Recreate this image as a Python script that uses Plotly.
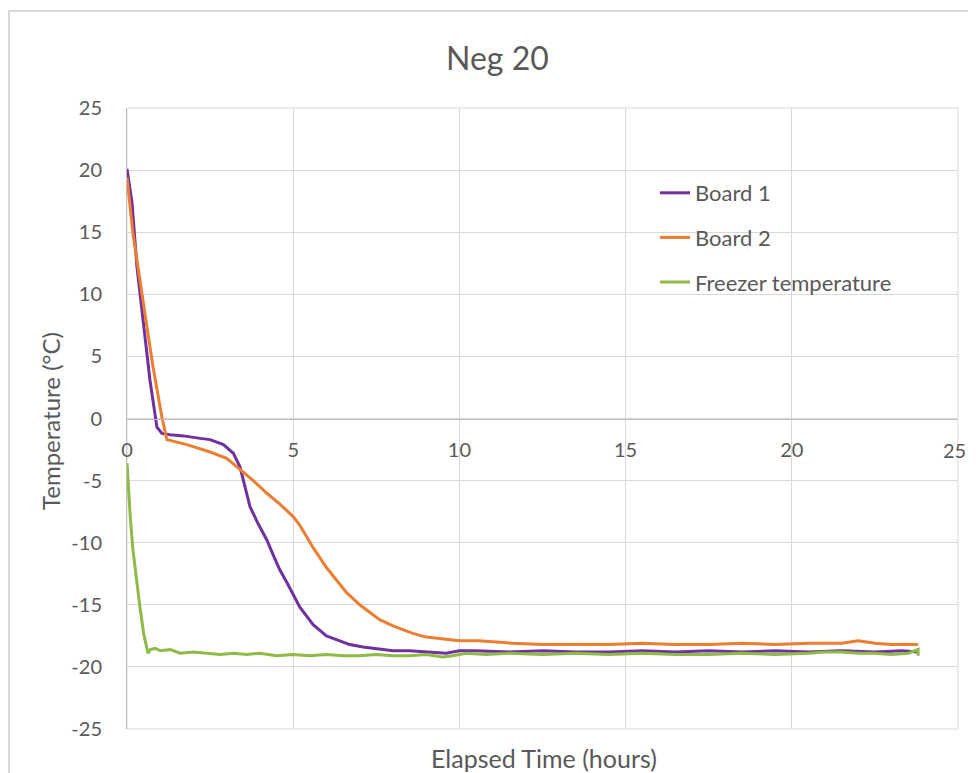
import plotly.graph_objects as go

# ---- data ----
b1_t = [0, 0.15, 0.3, 0.48, 0.69, 0.9, 1.05, 1.3, 1.7, 2.2, 2.5, 2.9, 3.2, 3.4, 3.55, 3.7, 3.95, 4.21, 4.4, 4.6,
        4.81, 5.0, 5.2, 5.6, 6.0, 6.4, 6.7, 7.1, 7.6, 8.0, 8.5, 9.0, 9.6, 10.0, 10.5, 11.5, 12.5, 13.5, 14.5, 15.5,
        16.5, 17.5, 18.5, 19.5, 20.5, 21.5, 22.5, 23.3, 23.8]
b1_v = [20.1, 17.4, 12.2, 8.2, 3.1, -0.7, -1.2, -1.3, -1.4, -1.6, -1.7, -2.1, -2.8, -3.9, -5.5, -7.1, -8.5, -9.8, -11.0, -12.2,
        -13.2, -14.2, -15.2, -16.6, -17.5, -17.9, -18.2, -18.4, -18.6, -18.7, -18.7, -18.8, -18.9, -18.7, -18.7, -18.8, -18.7, -18.8, -18.8, -18.7,
        -18.8, -18.7, -18.8, -18.7, -18.8, -18.7, -18.8, -18.7, -18.8]

b2_t = [0, 0.18, 0.48, 0.78, 1.05, 1.2, 1.8, 2.5, 3.0, 3.4, 3.8, 4.2, 4.6, 5.0, 5.2, 5.4, 5.6, 6.0, 6.3, 6.6,
        7.0, 7.6, 8.0, 8.6, 9.0, 9.6, 10.0, 10.6, 11.6, 12.5, 13.5, 14.5, 15.5, 16.5, 17.5, 18.5, 19.5, 20.5, 21.5, 22.0,
        22.5, 23.0, 23.8]
b2_v = [19.4, 14.9, 9.5, 4.2, 0.1, -1.7, -2.1, -2.7, -3.2, -4.1, -5.0, -6.0, -6.9, -7.9, -8.6, -9.5, -10.4, -12.0, -13.0, -14.0,
        -15.0, -16.2, -16.7, -17.3, -17.6, -17.8, -17.9, -17.9, -18.1, -18.2, -18.2, -18.2, -18.1, -18.2, -18.2, -18.1, -18.2, -18.1, -18.1, -17.9,
        -18.1, -18.2, -18.2]

fz_t = [0, 0.05, 0.1, 0.18, 0.28, 0.39, 0.5, 0.63, 0.7, 0.85, 1.0, 1.3, 1.6, 2.0, 2.4, 2.8, 3.2, 3.6, 4.0, 4.5,
        5.0, 5.5, 6.0, 6.5, 7.0, 7.5, 8.0, 8.5, 9.0, 9.5, 9.8, 10.2, 10.8, 11.5, 12.5, 13.5, 14.5, 15.5, 16.5, 17.5,
        18.5, 19.5, 20.5, 21.0, 21.5, 22.0, 22.5, 23.0, 23.5, 23.8, 23.8]
fz_v = [-3.6, -6.0, -8.0, -10.6, -13.0, -15.2, -17.3, -18.9, -18.6, -18.5, -18.7, -18.6, -18.9, -18.8, -18.9, -19.0, -18.9, -19.0, -18.9, -19.1,
        -19.0, -19.1, -19.0, -19.1, -19.1, -19.0, -19.1, -19.1, -19.0, -19.2, -19.1, -18.9, -19.0, -18.9, -19.0, -18.9, -19.0, -18.9, -19.0, -19.0,
        -18.9, -19.0, -18.9, -18.8, -18.8, -18.9, -18.9, -19.0, -18.9, -18.6, -19.1]

series_names = ["Board 1", "Board 2", "Freezer temperature"]
series_colors = ["#7030A0", "#ED7D31", "#8DBB45"]

x_ticks = [0, 5, 10, 15, 20, 25]
y_ticks = [-25, -20, -15, -10, -5, 0, 5, 10, 15, 20, 25]
x_ticktext = ["0", "5", "10", "15", "20", "25"]
y_ticktext = ["-25", "-20", "-15", "-10", "-5", "0", "5", "10", "15", "20", "25"]

title_text = "Neg 20"
x_title = "Elapsed Time (hours)"
y_title = "Temperature (°C)"

FONT = "Lato, 'Open Sans', sans-serif"
TXT = "#595959"
GRID = "#d9d9d9"
AXIS = "#bfbfbf"

fig = go.Figure()
for i, (t, v) in enumerate([(b1_t, b1_v), (b2_t, b2_v), (fz_t, fz_v)]):
    fig.add_trace(go.Scatter(x=t, y=v, mode="lines", name=series_names[i], legendgroup=str(i),
                             line=dict(color=series_colors[i], width=3)))

OFF = 8  # page body margin
W, H = 976 - 2 * OFF, 773 - OFF
# screen-pixel plot area: x 127..958, y 108..729
PX0, PX1, PY0, PY1 = 127, 958, 108, 729
L, R, T, B = PX0 - OFF, OFF + W - PX1, PY0 - OFF, OFF + H - PY1

def px2x(p):
    return (p - PX0) / (PX1 - PX0)

def py2y(p):
    return (PY1 - p) / (PY1 - PY0)

fig.update_layout(
    width=W, height=H,
    margin=dict(l=L, r=R, t=T, b=B, pad=0),
    paper_bgcolor="white", plot_bgcolor="white",
    font=dict(family=FONT, color=TXT, size=20),
    showlegend=True,
    legend=dict(x=px2x(655), y=py2y(172), xanchor="left", yanchor="top",
                bgcolor="rgba(0,0,0,0)", font=dict(size=22, color=TXT),
                tracegroupgap=13, traceorder="grouped"),
    # last x tick label (at the right edge) is placed as an annotation so it stays inside the page
    xaxis=dict(range=[0, 25], tickvals=x_ticks[:-1], ticktext=x_ticktext[:-1], showgrid=True, gridcolor=GRID, gridwidth=1,
               zeroline=False, showline=True, linecolor=AXIS, linewidth=1,
               anchor="free", position=0.5, ticks="", ticklabelstandoff=13,
               tickfont=dict(size=20, color=TXT)),
    yaxis=dict(range=[-25, 25], tickvals=y_ticks, ticktext=y_ticktext, showgrid=True, gridcolor=GRID, gridwidth=1,
               zeroline=False, showline=True, linecolor=AXIS, linewidth=1,
               ticks="", ticklabelstandoff=20, tickfont=dict(size=20, color=TXT)),
    annotations=[
        dict(text=title_text, xref="paper", yref="paper", x=px2x(497), y=py2y(57),
             xanchor="center", yanchor="middle", showarrow=False, font=dict(size=32, color=TXT)),
        dict(text=x_title, xref="paper", yref="paper", x=px2x(544), y=py2y(758),
             xanchor="center", yanchor="middle", showarrow=False, font=dict(size=25, color=TXT)),
        dict(text=y_title, xref="paper", yref="paper", x=px2x(50), y=py2y(421),
             xanchor="center", yanchor="middle", textangle=-90, showarrow=False, font=dict(size=24, color=TXT)),
        dict(text=x_ticktext[-1], xref="paper", yref="y", x=px2x(OFF + W - 1), y=0,
             xanchor="right", yanchor="middle", yshift=-31, showarrow=False, borderpad=0,
             font=dict(size=20, color=TXT)),
    ],
    shapes=[
        dict(type="rect", xref="paper", yref="paper", x0=px2x(9), x1=px2x(1050), y0=py2y(830), y1=py2y(11),
             line=dict(color=GRID, width=2), layer="below"),
        dict(type="rect", xref="paper", yref="paper", x0=0, x1=1, y0=0, y1=1,
             line=dict(color=GRID, width=1), layer="below"),
    ],
)

fig.write_html("out.html")
